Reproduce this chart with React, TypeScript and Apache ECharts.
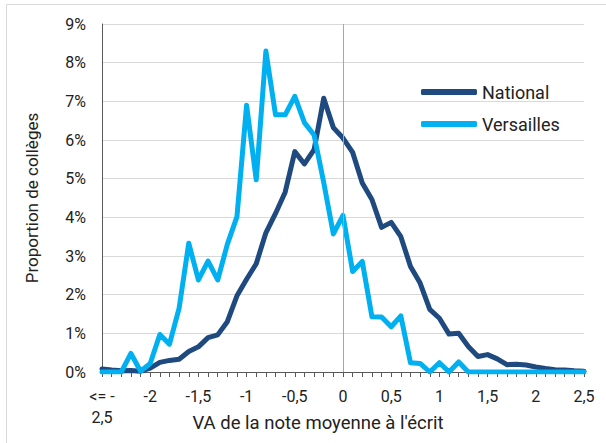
import React, { useEffect, useRef } from "react";
import * as echarts from "echarts";

const categories = [
  "<= -2,5", "-2,4", "-2,3", "-2,2", "-2,1", "-2", "-1,9", "-1,8", "-1,7", "-1,6",
  "-1,5", "-1,4", "-1,3", "-1,2", "-1,1", "-1", "-0,9", "-0,8", "-0,7", "-0,6",
  "-0,5", "-0,4", "-0,3", "-0,2", "-0,1", "0", "0,1", "0,2", "0,3", "0,4",
  "0,5", "0,6", "0,7", "0,8", "0,9", "1", "1,1", "1,2", "1,3", "1,4",
  "1,5", "1,6", "1,7", "1,8", "1,9", "2", "2,1", "2,2", "2,3", "2,4", "2,5",
];

const national = [
  0.08, 0.05, 0.03, 0.04, 0.02, 0.1, 0.25, 0.3, 0.33, 0.53,
  0.65, 0.89, 0.96, 1.3, 1.97, 2.4, 2.8, 3.6, 4.1, 4.65,
  5.7, 5.38, 5.75, 7.08, 6.32, 6.05, 5.68, 4.89, 4.46, 3.74,
  3.87, 3.5, 2.73, 2.3, 1.62, 1.39, 0.98, 1.0, 0.66, 0.4,
  0.45, 0.34, 0.19, 0.2, 0.18, 0.13, 0.09, 0.06, 0.05, 0.03, 0.02,
];

const versailles = [
  0, 0, 0, 0.48, 0.02, 0.22, 0.97, 0.72, 1.65, 3.33,
  2.38, 2.87, 2.38, 3.3, 4.02, 6.9, 4.97, 8.3, 6.65, 6.65,
  7.13, 6.45, 6.13, 4.9, 3.57, 4.05, 2.6, 2.86, 1.43, 1.42,
  1.17, 1.45, 0.24, 0.22, 0, 0.24, 0, 0.26, 0, 0,
  0, 0, 0, 0, 0, 0, 0, 0, 0, 0, 0,
];

const seriesNames = ["National", "Versailles"];
const yTicks = [0, 1, 2, 3, 4, 5, 6, 7, 8, 9];

export default function App() {
  const ref = useRef<HTMLDivElement>(null);
  useEffect(() => {
    if (!ref.current) return;
    const chart = echarts.init(ref.current, null, { renderer: "svg" });
    const font = "Roboto, 'Noto Sans', sans-serif";
    chart.setOption({
      animation: false,
      textStyle: { fontFamily: font },
      graphic: [
        {
          type: "rect",
          shape: { x: 6.5, y: 4.5, width: 800, height: 800 },
          style: { fill: "none", stroke: "#d9d9d9", lineWidth: 1 },
          silent: true,
        },
      ],
      grid: {
        left: 102,
        right: 22,
        top: 24,
        bottom: 71,
        containLabel: false,
        outerBoundsMode: "none",
      },
      legend: {
        data: seriesNames,
        orient: "vertical",
        left: 421,
        top: 83,
        padding: 0,
        itemWidth: 56,
        itemHeight: 6,
        itemGap: 14,
        icon: "roundRect",
        textStyle: { fontSize: 18, color: "#222", fontFamily: font },
      },
      xAxis: {
        type: "category",
        data: categories,
        boundaryGap: false,
        name: "VA de la note moyenne à l'écrit",
        nameLocation: "middle",
        nameGap: 41,
        nameMoveOverlap: false,
        nameTextStyle: {
          fontSize: 18.5,
          color: "#222",
          fontFamily: font,
          padding: [0, 50, 0, 0],
        },
        axisLine: { lineStyle: { color: "#595959", width: 1 } },
        axisTick: { show: true, interval: 0, length: 5, lineStyle: { color: "#595959" } },
        axisLabel: {
          interval: 4,
          fontSize: 16,
          color: "#222",
          margin: 14,
          lineHeight: 21,
          formatter: (v: string) => (v === "<= -2,5" ? "<= -\n2,5" : v),
        },
        splitLine: { show: false },
      },
      yAxis: {
        type: "value",
        min: yTicks[0],
        max: yTicks[yTicks.length - 1],
        interval: 1,
        name: "Proportion de collèges",
        nameLocation: "middle",
        nameGap: 62,
        nameMoveOverlap: false,
        nameTextStyle: { fontSize: 17, color: "#222", fontFamily: font },
        axisLine: { show: true, lineStyle: { color: "#595959", width: 1 } },
        axisTick: { show: false },
        axisLabel: { fontSize: 16, color: "#222", margin: 16, formatter: "{value}%" },
        splitLine: { lineStyle: { color: "#d9d9d9", width: 1 } },
      },
      series: [
        {
          name: seriesNames[0],
          type: "line",
          data: national,
          symbol: "none",
          lineStyle: { color: "#1f4a7f", width: 5, cap: "round", join: "round" },
          itemStyle: { color: "#1f4a7f" },
          markLine: {
            silent: true,
            symbol: ["none", "none"],
            label: { show: false },
            lineStyle: { color: "#a6a6a6", width: 1, type: "solid" },
            data: [{ xAxis: "0" }],
          },
          z: 2,
        },
        {
          name: seriesNames[1],
          type: "line",
          data: versailles,
          symbol: "none",
          lineStyle: { color: "#00b0f0", width: 5, cap: "round", join: "round" },
          itemStyle: { color: "#00b0f0" },
          z: 3,
        },
      ],
    });
    return () => chart.dispose();
  }, []);
  return (
    <div
      ref={ref}
      style={{ position: "absolute", left: 0, top: 0, width: 606, height: 443, background: "#fff" }}
    />
  );
}
